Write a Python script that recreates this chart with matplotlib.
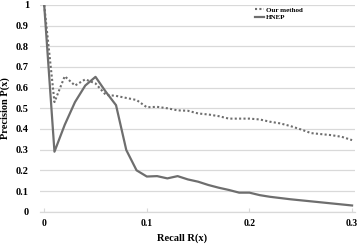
import matplotlib
matplotlib.use("Agg")
import matplotlib.pyplot as plt
import numpy as np

plt.rcParams["font.family"] = ["Liberation Serif", "DejaVu Serif"]
plt.rcParams["font.weight"] = "bold"

# recall 0.00 .. 0.30, step 0.01
recall = np.round(np.arange(31) * 0.01, 2)
our_method = [1.0, 0.53, 0.655, 0.61, 0.64, 0.62, 0.565, 0.56, 0.55, 0.54,
              0.505, 0.507, 0.50, 0.49, 0.488, 0.475, 0.47, 0.462, 0.45, 0.45,
              0.45, 0.446, 0.435, 0.427, 0.414, 0.398, 0.38, 0.375, 0.37, 0.362,
              0.346]
hnep = [1.0, 0.29, 0.42, 0.53, 0.61, 0.652, 0.58, 0.515, 0.298, 0.20,
        0.17, 0.172, 0.161, 0.172, 0.156, 0.145, 0.129, 0.116, 0.105, 0.092,
        0.092, 0.08, 0.072, 0.066, 0.06, 0.055, 0.05, 0.045, 0.04, 0.035,
        0.03]
yticks = [0, 0.1, 0.2, 0.3, 0.4, 0.5, 0.6, 0.7, 0.8, 0.9, 1]
ytick_labels = ["0", "0.1", "0.2", "0.3", "0.4", "0.5", "0.6", "0.7", "0.8", "0.9", "1"]
xticks = [0, 0.1, 0.2, 0.3]
xtick_labels = ["0", "0.1", "0.2", "0.3"]

fig = plt.figure(figsize=(3.58, 2.45), dpi=100)
ax = fig.add_axes([0.112, 0.136, 0.88, 0.844])

line_c = "#6e6e6e"
grid_c = "#d9d9d9"

ax.plot(recall, our_method, color=line_c, lw=1.5, ls=(0, (1, 1.1)), label="Our method")
ax.plot(recall, hnep, color=line_c, lw=1.6, label="HNEP")

ax.set_xlim(-0.004, 0.303)
ax.set_ylim(0, 1)
ax.set_yticks(yticks)
ax.set_yticklabels(ytick_labels)
ax.set_xticks(xticks)
ax.set_xticklabels(xtick_labels)
ax.tick_params(axis="y", length=0, pad=8, labelsize=7.5)
ax.tick_params(axis="x", length=3, direction="in", color=grid_c, pad=5, labelsize=7)
for lbl in ax.get_xticklabels() + ax.get_yticklabels():
    lbl.set_fontweight("bold")

ax.grid(axis="y", color=grid_c, lw=0.9)
ax.set_axisbelow(True)
for s in ["top", "right", "left"]:
    ax.spines[s].set_visible(False)
ax.spines["bottom"].set_color(grid_c)
ax.spines["bottom"].set_linewidth(0.9)

ax.set_xlabel("Recall R(x)", fontsize=7.5, fontweight="bold")
ax.xaxis.set_label_coords((182 - 40) / 315, -0.103)
ax.set_ylabel("Precision P(x)", fontsize=7.5, fontweight="bold")
ax.yaxis.set_label_coords(-0.097, 0.5)

# legend, top right inside the plot
leg = fig.legend(loc="upper left", bbox_to_anchor=(255 / 358, 1 - 7 / 245), frameon=False,
                 fontsize=5, handlelength=1.3, handletextpad=0.3, labelspacing=0.25,
                 borderaxespad=0, borderpad=0)
for t in leg.get_texts():
    t.set_fontweight("bold")

fig.savefig("out.png", dpi=100)
